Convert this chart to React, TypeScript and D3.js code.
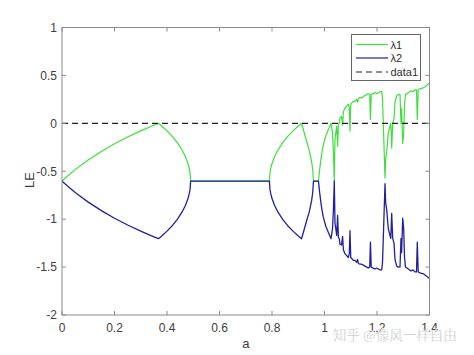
import React from "react";
import * as d3 from "d3";

const A_VALUES = [
  0, 0.01, 0.02, 0.05, 0.1, 0.15, 0.2, 0.25, 0.3, 0.35, 0.3675,
  0.38, 0.40, 0.42, 0.44, 0.46, 0.47, 0.48, 0.485, 0.488, 0.49,
  0.79,
  0.792, 0.795, 0.80, 0.81, 0.82, 0.84, 0.86, 0.88, 0.90, 0.9125,
  0.92, 0.932, 0.942, 0.951, 0.955, 0.958, 0.977, 0.980, 0.983, 0.988, 0.995, 1.005, 1.014, 1.025,
  1.0305, 1.034, 1.0373, 1.040, 1.0465, 1.050, 1.053, 1.056, 1.059, 1.065, 1.069, 1.072, 1.078, 1.0846,
  1.0907, 1.0945, 1.097, 1.100, 1.1036, 1.1097, 1.116, 1.1227, 1.126, 1.1288, 1.135, 1.1417, 1.148,
  1.154, 1.1608, 1.167, 1.1722, 1.175, 1.178, 1.1848, 1.1924, 1.1989, 1.205, 1.2114, 1.2179, 1.221,
  1.224, 1.2274, 1.2305, 1.2331, 1.237, 1.243, 1.2495, 1.2526, 1.256, 1.2598, 1.2648, 1.2686, 1.275,
  1.2811, 1.2876, 1.2914, 1.2937, 1.2979, 1.3017, 1.3048, 1.3086, 1.3192, 1.3295, 1.3371, 1.3448,
  1.3505, 1.3535, 1.357, 1.3638, 1.3764, 1.3867, 1.3954, 1.40,
];

const LAMBDA1 = [
  -0.602, -0.576, -0.552, -0.483, -0.382, -0.293, -0.214, -0.143, -0.079, -0.020, 0,
  -0.028, -0.079, -0.136, -0.204, -0.291, -0.347, -0.420, -0.473, -0.520, -0.602,
  -0.602,
  -0.520, -0.473, -0.420, -0.347, -0.291, -0.204, -0.136, -0.079, -0.028, 0,
  -0.07, -0.19, -0.28, -0.40, -0.48, -0.602, -0.602, -0.52, -0.45, -0.34, -0.23, -0.13, -0.07, 0,
  -0.10, -0.30, -0.602, -0.16, -0.03, -0.24, -0.01, 0.0, 0.06, 0.07, -0.02, 0.12, 0.16, 0.18,
  0.20, 0.16, -0.08, 0.20, 0.21, 0.23, 0.23, 0.25, 0.22, 0.255, 0.27, 0.265, 0.28,
  0.29, 0.30, 0.31, 0.30, 0.04, 0.30, 0.31, 0.32, 0.31, 0.32, 0.33, 0.33, 0.25,
  0.0, -0.30, -0.57, -0.37, -0.30, -0.10, -0.03, 0.0, -0.26, 0.0, 0.05, 0.22, 0.29,
  0.30, 0.30, 0.0, 0.15, -0.21, -0.10, 0.20, 0.30, 0.32, 0.34, 0.33, 0.35,
  0.35, 0.04, 0.35, 0.36, 0.37, 0.39, 0.41, 0.42,
];

const LAMBDA2 = [
  -0.602, -0.628, -0.652, -0.721, -0.822, -0.911, -0.990, -1.061, -1.125, -1.184, -1.204,
  -1.176, -1.125, -1.068, -1.000, -0.913, -0.857, -0.784, -0.731, -0.684, -0.602,
  -0.602,
  -0.684, -0.731, -0.784, -0.857, -0.913, -1.000, -1.068, -1.125, -1.176, -1.204,
  -1.134, -1.014, -0.924, -0.804, -0.724, -0.602, -0.602, -0.684, -0.754, -0.864, -0.974, -1.074, -1.134, -1.204,
  -1.10, -0.90, -0.602, -1.04, -1.17, -0.96, -1.19, -1.20, -1.26, -1.27, -1.18, -1.32, -1.36, -1.38,
  -1.40, -1.36, -1.12, -1.40, -1.41, -1.43, -1.43, -1.45, -1.42, -1.46, -1.47, -1.47, -1.48,
  -1.49, -1.50, -1.51, -1.50, -1.24, -1.50, -1.51, -1.52, -1.51, -1.52, -1.53, -1.53, -1.45,
  -1.20, -0.90, -0.63, -0.83, -0.90, -1.10, -1.17, -1.20, -0.94, -1.20, -1.25, -1.42, -1.49,
  -1.50, -1.50, -1.20, -1.35, -0.99, -1.10, -1.40, -1.50, -1.52, -1.54, -1.53, -1.55,
  -1.55, -1.24, -1.55, -1.56, -1.57, -1.59, -1.61, -1.62,
];

const ZERO_A = [0, 1.4];
const ZERO_LE = [0, 0];

const X_TICKS = [0, 0.2, 0.4, 0.6, 0.8, 1, 1.2, 1.4];
const X_TICK_LABELS = ["0", "0.2", "0.4", "0.6", "0.8", "1", "1.2", "1.4"];
const Y_TICKS = [-2, -1.5, -1, -0.5, 0, 0.5, 1];
const Y_TICK_LABELS = ["-2", "-1.5", "-1", "-0.5", "0", "0.5", "1"];

const LEGEND_LABELS = ["λ1", "λ2", "data1"];
const SERIES_COLORS = ["#3ddf3d", "#20209e", "#222222"];

export default function App() {
  const W = 474;
  const H = 355;
  const left = 62;
  const right = 429.5;
  const top = 27.5;
  const bottom = 315;
  const font = "'Liberation Sans', Arial, Helvetica, sans-serif";
  const axisColor = "#8a8a8a";
  const labelColor = "#404040";

  const x = d3.scaleLinear().domain([0, 1.4]).range([left, right]);
  const y = d3.scaleLinear().domain([-2, 1]).range([bottom, top]);

  const seriesLine = (xs: number[]) =>
    d3
      .line<number>()
      .x((_, i) => x(xs[i]))
      .y((d) => y(d));

  const path1 = seriesLine(A_VALUES)(LAMBDA1) || "";
  const path2 = seriesLine(A_VALUES)(LAMBDA2) || "";
  const path0 = seriesLine(ZERO_A)(ZERO_LE) || "";

  const tickLen = 4;

  const legX = 351.5;
  const legY = 34.5;
  const legW = 69;
  const legH = 46;
  const legRows = [44.5, 58, 72];

  return (
    <svg
      width={W}
      height={H}
      style={{ position: "absolute", left: 0, top: 0, display: "block" }}
      fontFamily={font}
    >
      <rect x={0} y={0} width={W} height={H} fill="#ffffff" />
      <defs>
        <clipPath id="plotClip">
          <rect x={left} y={top} width={right - left} height={bottom - top} />
        </clipPath>
      </defs>

      <g clipPath="url(#plotClip)" fill="none" strokeLinejoin="round">
        <path d={path1} stroke={SERIES_COLORS[0]} strokeWidth={1.2} />
        <path d={path2} stroke={SERIES_COLORS[1]} strokeWidth={1.3} />
        <path d={path0} stroke={SERIES_COLORS[2]} strokeWidth={1.2} strokeDasharray="6,4" />
      </g>

      {/* box */}
      <rect
        x={left}
        y={top}
        width={right - left}
        height={bottom - top}
        fill="none"
        stroke={axisColor}
        strokeWidth={1}
      />

      {/* x ticks */}
      {X_TICKS.map((t, i) => (
        <g key={"xt" + i}>
          <line x1={x(t)} x2={x(t)} y1={bottom} y2={bottom - tickLen} stroke={axisColor} />
          <line x1={x(t)} x2={x(t)} y1={top} y2={top + tickLen} stroke={axisColor} />
          <text
            x={x(t)}
            y={332}
            textAnchor="middle"
            fontSize={12}
            fill={labelColor}
          >
            {X_TICK_LABELS[i]}
          </text>
        </g>
      ))}

      {/* y ticks */}
      {Y_TICKS.map((t, i) => (
        <g key={"yt" + i}>
          <line x1={left} x2={left + tickLen} y1={y(t)} y2={y(t)} stroke={axisColor} />
          <line x1={right} x2={right - tickLen} y1={y(t)} y2={y(t)} stroke={axisColor} />
          <text
            x={57}
            y={y(t) + 4.3}
            textAnchor="end"
            fontSize={12}
            fill={labelColor}
          >
            {Y_TICK_LABELS[i]}
          </text>
        </g>
      ))}

      {/* axis labels */}
      <text x={(left + right) / 2} y={348} textAnchor="middle" fontSize={13} fill={labelColor}>
        a
      </text>
      <text
        transform={`translate(34, 180) rotate(-90)`}
        textAnchor="middle"
        fontSize={13}
        fill={labelColor}
      >
        LE
      </text>

      {/* legend */}
      <rect x={legX} y={legY} width={legW} height={legH} fill="#ffffff" stroke="#666666" strokeWidth={1} />
      {LEGEND_LABELS.map((lab, i) => (
        <g key={"lg" + i}>
          <line
            x1={356}
            x2={388}
            y1={legRows[i]}
            y2={legRows[i]}
            stroke={SERIES_COLORS[i]}
            strokeWidth={1.2}
            strokeDasharray={i === 2 ? "6,4" : undefined}
          />
          <text x={390.5} y={legRows[i] + 4} fontSize={11} fill="#303030">
            {lab}
          </text>
        </g>
      ))}

      {/* watermark */}
      <text
        x={333}
        y={340}
        fontSize={13.5}
        fill="#c4c4c4"
        fontFamily="'Noto Sans CJK SC', sans-serif"
        stroke="#ffffff"
        strokeWidth={0.3}
      >
        知乎 @像风一样自由
      </text>
    </svg>
  );
}
